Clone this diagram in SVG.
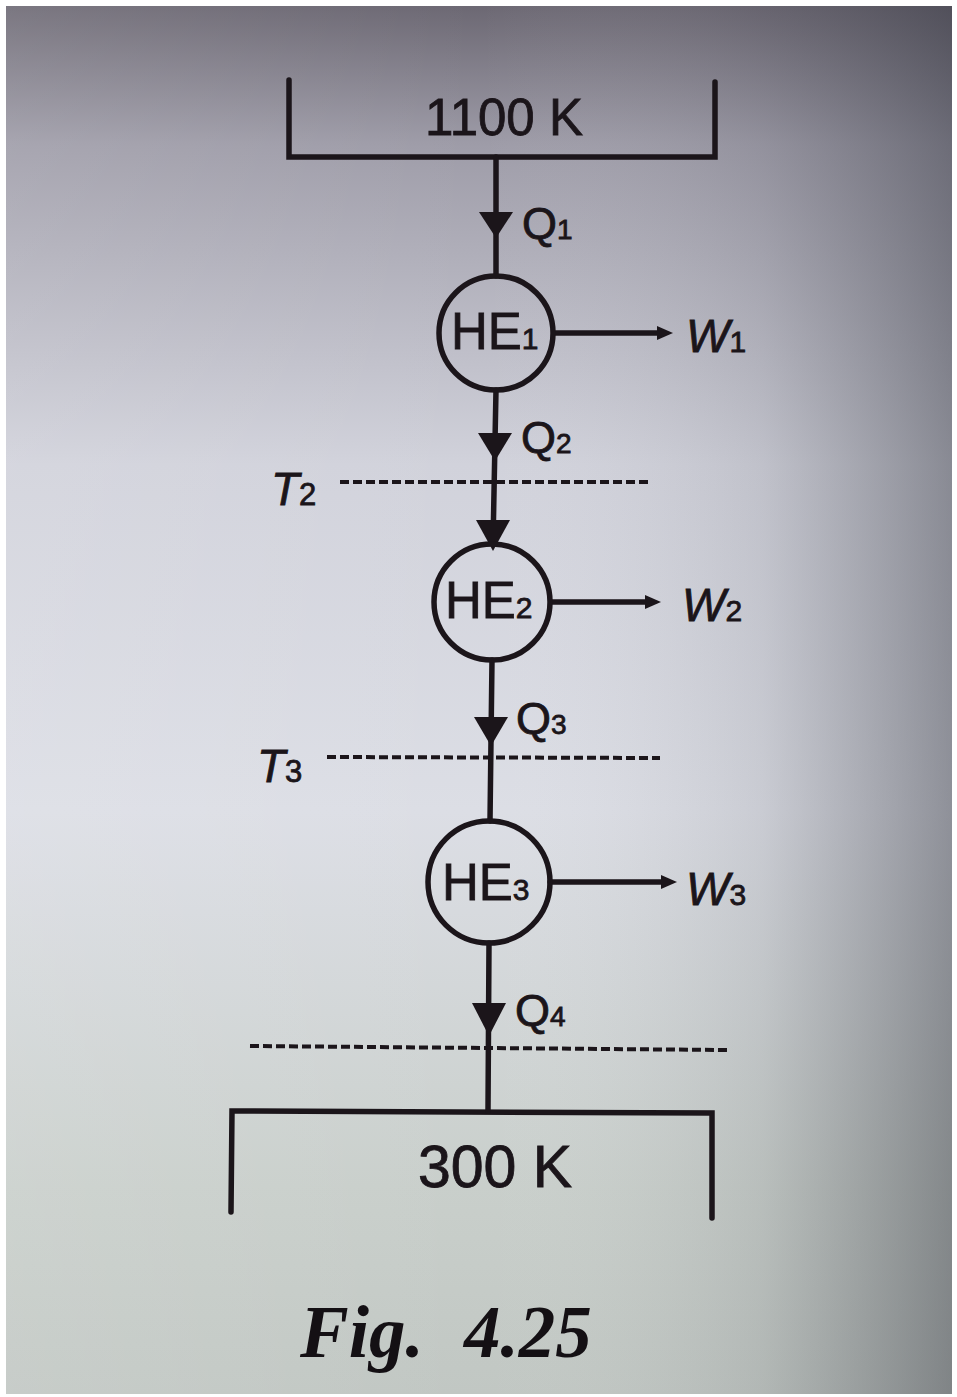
<svg xmlns="http://www.w3.org/2000/svg" width="957" height="1397" viewBox="0 0 957 1397">
<defs>
<linearGradient id="bgv" x1="0" y1="0" x2="0" y2="1">
<stop offset="0" stop-color="#6c6873"/>
<stop offset="0.1" stop-color="#9e9ca8"/>
<stop offset="0.33" stop-color="#d1d2db"/>
<stop offset="0.58" stop-color="#dcdee5"/>
<stop offset="0.85" stop-color="#c9cfcb"/>
<stop offset="1" stop-color="#c1c7c3"/>
</linearGradient>
<linearGradient id="bgh" x1="0" y1="0" x2="1" y2="0">
<stop offset="0" stop-color="#ffffff" stop-opacity="0.1"/>
<stop offset="0.5" stop-color="#ffffff" stop-opacity="0"/>
<stop offset="0.8" stop-color="#40424c" stop-opacity="0.12"/>
<stop offset="1" stop-color="#30323c" stop-opacity="0.45"/>
</linearGradient>
<style>
.ln{stroke:#1b151a;stroke-width:5.5;fill:none;stroke-linecap:round}
.he{stroke:#1b151a;stroke-width:5.5;fill:none}
.dash{stroke:#1b151a;stroke-width:4;fill:none;stroke-dasharray:9 4}
.ah{fill:#1b151a}
.t{font-family:"Liberation Sans",Arial,sans-serif;fill:#1b151a;stroke:#1b151a;stroke-width:0.8}
.it{font-family:"Liberation Sans",Arial,sans-serif;font-style:italic;fill:#1b151a;stroke:#1b151a;stroke-width:0.8}
.cap{font-family:"Liberation Serif","Times New Roman",serif;font-weight:bold;font-style:italic;fill:#141014}
</style>
</defs>
<rect x="0" y="0" width="957" height="1397" fill="#ffffff"/>
<rect x="6" y="6" width="946" height="1388" fill="url(#bgv)"/>
<rect x="6" y="6" width="946" height="1388" fill="url(#bgh)"/>

<g id="reservoir-hot">
<path class="ln" d="M289,80 L289,157 L715,157 L715,82"/>
<text class="t" x="504" y="135" font-size="51" text-anchor="middle">1100 K</text>
</g>

<g id="reservoir-cold">
<path class="ln" d="M231,1212 L232,1111 L712,1113 L712,1218"/>
<text class="t" x="495" y="1187" font-size="59" text-anchor="middle">300 K</text>
</g>

<g id="connectors">
<line class="ln" x1="496" y1="157" x2="496" y2="276"/>
<line class="ln" x1="496" y1="390" x2="493" y2="544"/>
<line class="ln" x1="492" y1="660" x2="490" y2="821"/>
<line class="ln" x1="489" y1="943" x2="488" y2="1111"/>
<polygon class="ah" points="479,212 513,212 496,238"/>
<polygon class="ah" points="478,433 512,433 495,461"/>
<polygon class="ah" points="476,520 510,520 493,551"/>
<polygon class="ah" points="474,717 508,717 491,746"/>
<polygon class="ah" points="472,1003 506,1003 489,1036"/>
<line class="ln" x1="554" y1="333" x2="660" y2="333"/>
<polygon class="ah" points="657,326 673,333 657,340"/>
<line class="ln" x1="551" y1="602" x2="648" y2="602"/>
<polygon class="ah" points="645,595 661,602 645,609"/>
<line class="ln" x1="550" y1="882" x2="664" y2="882"/>
<polygon class="ah" points="661,875 677,882 661,889"/>
<line class="dash" x1="340" y1="482" x2="648" y2="482"/>
<line class="dash" x1="327" y1="757" x2="660" y2="758"/>
<line class="dash" x1="250" y1="1046" x2="727" y2="1050"/>
</g>

<g id="HE1">
<circle class="he" cx="496" cy="333" r="57"/>
<text class="t" x="451" y="349" font-size="51">HE<tspan font-size="30">1</tspan></text>
</g>
<g id="HE2">
<circle class="he" cx="492" cy="602" r="58"/>
<text class="t" x="445" y="618" font-size="51">HE<tspan font-size="30">2</tspan></text>
</g>
<g id="HE3">
<circle class="he" cx="489" cy="882" r="61"/>
<text class="t" x="442" y="900" font-size="51">HE<tspan font-size="30">3</tspan></text>
</g>

<g id="labels">
<text class="t" x="522" y="239" font-size="45">Q<tspan font-size="28">1</tspan></text>
<text class="t" x="521" y="453" font-size="45">Q<tspan font-size="28">2</tspan></text>
<text class="t" x="516" y="734" font-size="45">Q<tspan font-size="28">3</tspan></text>
<text class="t" x="515" y="1026" font-size="45">Q<tspan font-size="28">4</tspan></text>
<text class="it" x="686" y="352" font-size="46">W<tspan font-size="30" font-style="normal">1</tspan></text>
<text class="it" x="682" y="621" font-size="46">W<tspan font-size="30" font-style="normal">2</tspan></text>
<text class="it" x="686" y="905" font-size="46">W<tspan font-size="30" font-style="normal">3</tspan></text>
<text class="it" x="271" y="505" font-size="46">T<tspan font-size="31" font-style="normal">2</tspan></text>
<text class="it" x="257" y="782" font-size="46">T<tspan font-size="31" font-style="normal">3</tspan></text>
</g>

<g id="caption">
<text class="cap" x="300" y="1357" font-size="73">Fig.</text>
<text class="cap" x="464" y="1357" font-size="73">4.25</text>
</g>
</svg>
